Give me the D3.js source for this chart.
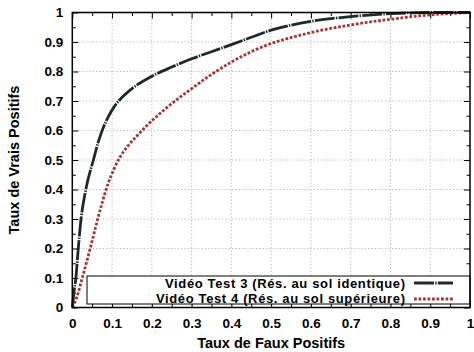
<!DOCTYPE html>
<html>
<head>
<meta charset="utf-8">
<script src="https://cdn.jsdelivr.net/npm/d3@7"></script>
<style>
  html, body { margin: 0; padding: 0; background: #fff; }
  svg { display: block; font-family: "Liberation Sans", Arial, Helvetica, sans-serif; }
</style>
</head>
<body>
<svg id="chart" width="474" height="352"></svg>
<script>
// ROC curves: false-positive rate vs true-positive rate
const fpr3 = [0, 0.004, 0.009, 0.015, 0.022, 0.034, 0.053, 0.065, 0.078, 0.09, 0.105, 0.12, 0.15, 0.2, 0.25, 0.3, 0.35, 0.4, 0.45, 0.5, 0.55, 0.6, 0.7, 0.8, 0.9, 1];
const tpr3 = [0, 0.05, 0.1, 0.2, 0.3, 0.4, 0.5, 0.56, 0.61, 0.645, 0.68, 0.705, 0.742, 0.784, 0.815, 0.843, 0.867, 0.891, 0.916, 0.94, 0.957, 0.97, 0.986, 0.996, 1, 1];

const fpr4 = [0, 0.01, 0.025, 0.045, 0.062, 0.075, 0.09, 0.105, 0.12, 0.14, 0.16, 0.19, 0.24, 0.3, 0.35, 0.4, 0.45, 0.5, 0.55, 0.6, 0.7, 0.8, 0.9, 1];
const tpr4 = [0, 0.03, 0.1, 0.2, 0.29, 0.355, 0.42, 0.47, 0.51, 0.548, 0.578, 0.62, 0.68, 0.742, 0.79, 0.832, 0.867, 0.895, 0.915, 0.932, 0.958, 0.977, 0.992, 1];

const seriesNames = [
  "Vidéo Test 3 (Rés. au sol identique)",
  "Vidéo Test 4 (Rés. au sol supérieure)"
];
const majorTicks = [0, 0.1, 0.2, 0.3, 0.4, 0.5, 0.6, 0.7, 0.8, 0.9, 1];
const minorTicks = [0.05, 0.15, 0.25, 0.35, 0.45, 0.55, 0.65, 0.75, 0.85, 0.95];
const xTitle = "Taux de Faux Positifs";
const yTitle = "Taux de Vrais Positifs";

const svg = d3.select("#chart");
const L = 72.3, R = 470, T = 12.5, B = 307.5;
const x = d3.scaleLinear().domain([0, 1]).range([L, R]);
const y = d3.scaleLinear().domain([0, 1]).range([B, T]);
const tickFmt = d => d === 0 ? "0" : d === 1 ? "1" : d3.format(".1f")(d);

// dotted grid at the major ticks
const grid = svg.append("g").attr("stroke", "#b4b4b4").attr("stroke-width", 1).attr("stroke-dasharray", "1.2,2.2");
majorTicks.filter(t => t > 0 && t < 1).forEach(t => {
  grid.append("line").attr("x1", x(t)).attr("x2", x(t)).attr("y1", T).attr("y2", B);
  grid.append("line").attr("y1", y(t)).attr("y2", y(t)).attr("x1", L).attr("x2", R);
});

// axes with inward ticks on all four sides
function addAxis(axisFn, scale, transform, major, pad) {
  const g = svg.append("g").attr("transform", transform)
    .call(axisFn(scale).tickValues(major ? majorTicks : minorTicks)
      .tickSizeInner(major ? -6 : -3.5).tickSizeOuter(0).tickPadding(pad || 0)
      .tickFormat(major ? tickFmt : ""));
  g.select(".domain").remove();
  g.selectAll(".tick line").attr("stroke", "#000").attr("stroke-width", 1);
  return g;
}
const xb = addAxis(d3.axisBottom, x, `translate(0,${B})`, true, 10.5);
addAxis(d3.axisBottom, x, `translate(0,${B})`, false);
const yl = addAxis(d3.axisLeft, y, `translate(${L},0)`, true, 9);
addAxis(d3.axisLeft, y, `translate(${L},0)`, false);
// top and right: ticks only
[true, false].forEach(m => {
  const gt = addAxis(d3.axisTop, x, `translate(0,${T})`, m);
  gt.selectAll("text").remove();
  const gr = addAxis(d3.axisRight, y, `translate(${R},0)`, m);
  gr.selectAll("text").remove();
});
[xb, yl].forEach(g => g.selectAll("text")
  .attr("font-size", 13.5).attr("font-weight", "bold").attr("fill", "#000")
  .attr("font-family", "Liberation Sans, Arial, sans-serif"));

// curves
const line = d3.line().x(d => x(d[0])).y(d => y(d[1])).curve(d3.curveMonotoneX);
const data3 = fpr3.map((v, i) => [v, tpr3[i]]);
const data4 = fpr4.map((v, i) => [v, tpr4[i]]);
const style3 = { stroke: "#1e2a2a", width: 2.8, dash: "20,1.2,1.4,1.2" };
const style4 = { stroke: "#a53636", width: 2.8, dash: "2.8,1.7" };

svg.append("path").datum(data4).attr("d", line).attr("fill", "none")
  .attr("stroke", style4.stroke).attr("stroke-width", style4.width).attr("stroke-dasharray", style4.dash);
svg.append("path").datum(data3).attr("d", line).attr("fill", "none")
  .attr("stroke", style3.stroke).attr("stroke-width", style3.width).attr("stroke-dasharray", style3.dash);

// legend
const lg = svg.append("g");
lg.append("rect").attr("x", 87).attr("y", 276).attr("width", R - 87).attr("height", 28)
  .attr("fill", "#fff").attr("stroke", "#000").attr("stroke-width", 1);
const legendWidths = [240, 249];
[style3, style4].forEach((s, i) => {
  lg.append("text").attr("x", 405).attr("y", 287.5 + i * 15).attr("text-anchor", "end")
    .attr("font-size", 13).attr("font-weight", "bold")
    .attr("textLength", legendWidths[i]).attr("lengthAdjust", "spacing")
    .text(seriesNames[i]);
  const yy = 283 + i * 16;
  lg.append("line").attr("x1", 414).attr("x2", 453).attr("y1", yy).attr("y2", yy)
    .attr("stroke", s.stroke).attr("stroke-width", s.width).attr("stroke-dasharray", s.dash);
});

// plot border
svg.append("rect").attr("x", L).attr("y", T).attr("width", R - L).attr("height", B - T)
  .attr("fill", "none").attr("stroke", "#000").attr("stroke-width", 1.5);

// axis titles
svg.append("text").attr("x", (L + R) / 2).attr("y", 348).attr("text-anchor", "middle")
  .attr("font-size", 14.5).attr("font-weight", "bold").text(xTitle);
svg.append("text").attr("transform", `translate(18.5,${(T + B) / 2}) rotate(-90)`).attr("text-anchor", "middle")
  .attr("font-size", 14.5).attr("font-weight", "bold").text(yTitle);
</script>
</body>
</html>
